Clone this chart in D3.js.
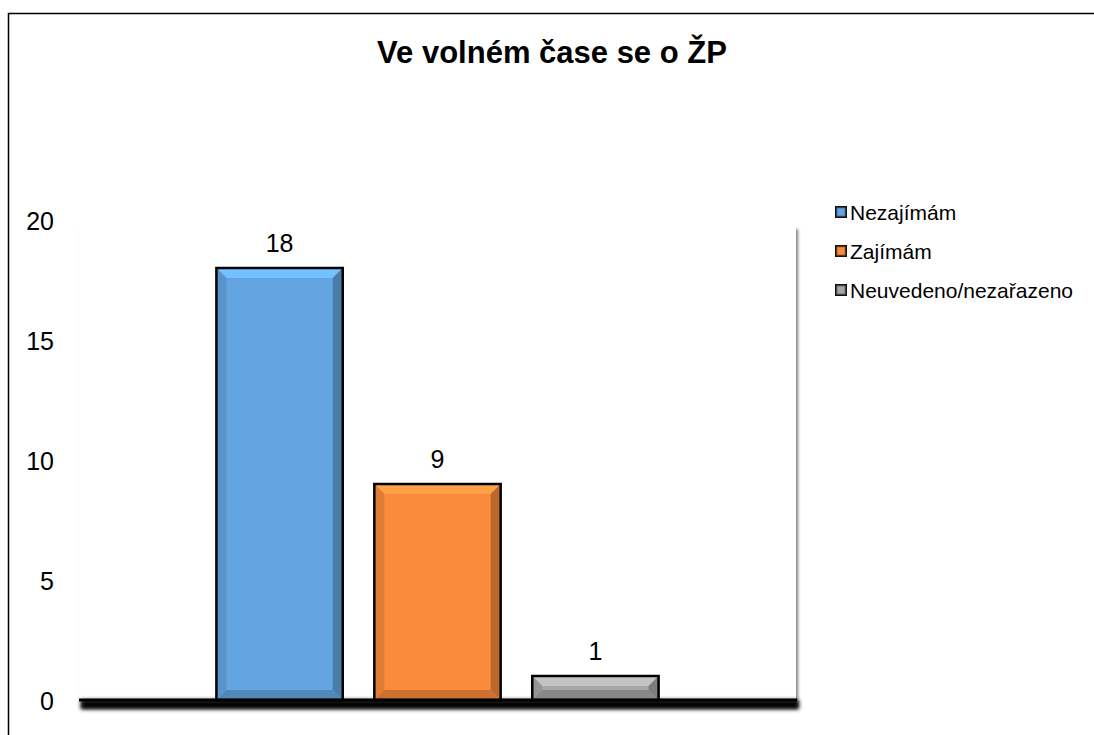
<!DOCTYPE html>
<html>
<head>
<meta charset="utf-8">
<script src="https://cdn.jsdelivr.net/npm/d3@7/dist/d3.min.js"></script>
<style>
body { margin: 0; background: #fff; }
text { font-family: Arial, "Liberation Sans", sans-serif; }
</style>
</head>
<body>
<svg id="chart" width="1094" height="735"></svg>
<script>
"use strict";
var chartTitle = 'Ve volném čase se o ŽP';
var seriesNames = ['Nezajímám', 'Zajímám', 'Neuvedeno/nezařazeno'];
var seriesValues = [18, 9, 1];
var seriesColors = ['#62a5e0', '#fa8a3c', '#a6a6a6'];
var yTicks = [0, 5, 10, 15, 20];

var plot = { left: 79, right: 796, top: 220, bottom: 700 };

var svg = d3.select('#chart');
var defs = svg.append('defs');

var plotShadow = defs.append('filter').attr('id', 'plotShadow')
    .attr('filterUnits', 'userSpaceOnUse')
    .attr('x', 60).attr('y', 200).attr('width', 760).attr('height', 540);
plotShadow.append('feDropShadow')
    .attr('dx', 2).attr('dy', 9).attr('stdDeviation', 1.5)
    .attr('flood-color', '#000').attr('flood-opacity', 0.5);

var blur = defs.append('filter').attr('id', 'blur')
    .attr('filterUnits', 'userSpaceOnUse')
    .attr('x', 60).attr('y', 680).attr('width', 760).attr('height', 50);
blur.append('feGaussianBlur').attr('stdDeviation', 2.2);

// outer frame (cut at the right and bottom edge like the original)
svg.append('rect')
    .attr('x', 8.5).attr('y', 13.5)
    .attr('width', 1200).attr('height', 900)
    .attr('fill', 'none').attr('stroke', '#000').attr('stroke-width', 1.5);

var y = d3.scaleLinear().domain([0, 20]).range([plot.bottom, plot.top]);
var x = d3.scaleBand().domain(seriesNames)
    .range([plot.left, plot.right])
    .paddingInner(0.2).paddingOuter(0.87);

svg.append('rect')
    .attr('x', plot.left).attr('y', plot.top)
    .attr('width', plot.right - plot.left).attr('height', plot.bottom - plot.top)
    .attr('fill', '#fff')
    .attr('filter', 'url(#plotShadow)');

svg.append('text')
    .attr('x', 552).attr('y', 63)
    .attr('text-anchor', 'middle')
    .attr('font-size', 31).attr('font-weight', 'bold')
    .text(chartTitle);

// y tick labels
svg.append('g').selectAll('text')
    .data(yTicks)
    .enter().append('text')
    .attr('x', 54)
    .attr('y', function (d) { return y(d) + 10; })
    .attr('text-anchor', 'end')
    .attr('font-size', 25)
    .text(function (d) { return d; });

var rows = seriesNames.map(function (name, i) {
    return { name: name, value: seriesValues[i], color: seriesColors[i] };
});

function bevelParts(d) {
    var x0 = x(d.name), x1 = x0 + x.bandwidth();
    var y0 = y(d.value), y1 = y(0);
    var b = Math.min(10, (y1 - y0) / 2 - 1);
    var base = d3.color(d.color);
    return [
        { pts: [[x0, y0], [x1, y0], [x1 - b, y0 + b], [x0 + b, y0 + b]], fill: base.brighter(0.45) },
        { pts: [[x1, y0], [x1, y1], [x1 - b, y1 - b], [x1 - b, y0 + b]], fill: base.darker(0.8) },
        { pts: [[x0, y1], [x1, y1], [x1 - b, y1 - b], [x0 + b, y1 - b]], fill: base.darker(0.55) },
        { pts: [[x0, y0], [x0 + b, y0 + b], [x0 + b, y1 - b], [x0, y1]], fill: base.darker(0.3) }
    ];
}

// category axis shadow (drawn before the bars)
svg.append('rect')
    .attr('x', plot.left + 2).attr('y', plot.bottom)
    .attr('width', plot.right - plot.left + 1).attr('height', 9)
    .attr('fill', '#000')
    .attr('filter', 'url(#blur)');

var bars = svg.append('g').selectAll('g')
    .data(rows)
    .enter().append('g');

bars.append('rect')
    .attr('x', function (d) { return x(d.name); })
    .attr('y', function (d) { return y(d.value); })
    .attr('width', x.bandwidth())
    .attr('height', function (d) { return y(0) - y(d.value); })
    .attr('fill', function (d) { return d.color; });

bars.each(function (d) {
    d3.select(this).selectAll('polygon')
        .data(bevelParts(d))
        .enter().append('polygon')
        .attr('points', function (p) { return p.pts.join(' '); })
        .attr('fill', function (p) { return p.fill; });
});

bars.append('rect')
    .attr('x', function (d) { return x(d.name); })
    .attr('y', function (d) { return y(d.value); })
    .attr('width', x.bandwidth())
    .attr('height', function (d) { return y(0) - y(d.value); })
    .attr('fill', 'none')
    .attr('stroke', '#000').attr('stroke-width', 2.5);

bars.append('text')
    .attr('x', function (d) { return x(d.name) + x.bandwidth() / 2; })
    .attr('y', function (d) { return y(d.value) - 16; })
    .attr('text-anchor', 'middle')
    .attr('font-size', 25)
    .text(function (d) { return d.value; });

svg.append('line')
    .attr('x1', plot.left).attr('x2', plot.right + 1)
    .attr('y1', plot.bottom).attr('y2', plot.bottom)
    .attr('stroke', '#000').attr('stroke-width', 3);

// legend
var legend = svg.append('g').selectAll('g')
    .data(rows)
    .enter().append('g')
    .attr('transform', function (d, i) { return 'translate(835,' + (212 + i * 39) + ')'; });

legend.append('rect')
    .attr('x', 0).attr('y', -6).attr('width', 12).attr('height', 12)
    .attr('fill', '#111');
legend.append('rect')
    .attr('x', 2).attr('y', -4).attr('width', 8).attr('height', 8)
    .attr('fill', function (d) { return d.color; })
    .attr('stroke', function (d) { return d3.color(d.color).darker(1); })
    .attr('stroke-width', 1);
legend.append('text')
    .attr('x', 15).attr('y', 8)
    .attr('font-size', 21)
    .text(function (d) { return d.name; });
</script>
</body>
</html>
